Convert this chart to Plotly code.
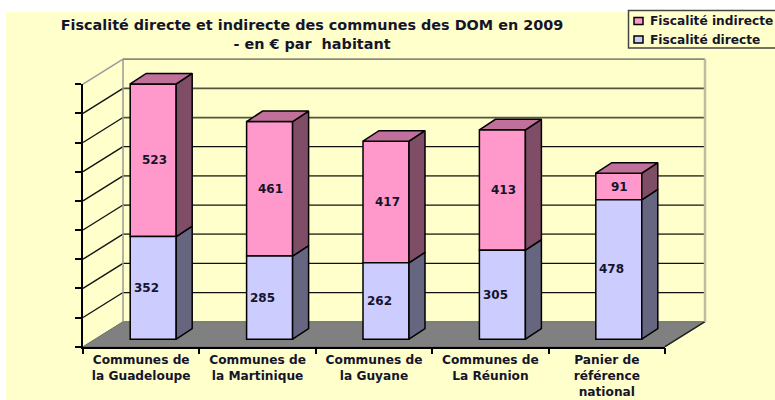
import plotly.graph_objects as go

categories = ["Communes de<br>la Guadeloupe", "Communes de<br>la Martinique", "Communes de<br>la Guyane",
              "Communes de<br>La Réunion", "Panier de<br>référence<br>national"]
directe = [352, 285, 262, 305, 478]
indirecte = [523, 461, 417, 413, 91]
value_ticks = [0, 100, 200, 300, 400, 500, 600, 700, 800, 900]
grid_dark = {100: 1, 200: 1, 300: 0, 400: 1, 500: 0, 600: 1, 700: 0, 800: 0}

W, H = 775, 400
L, R, T, B = 83, 665, 84.2, 346.7
xpx = (R - L) / 5
ypx = (B - T) / 900
WALL_DX, WALL_DY = 40 / xpx, 25 / ypx
BAR_W = 46 / xpx
BAR_DX, BAR_DY = 16 / xpx, 10.5 / ypx
BAR_POS = 0.3
YEL = "#FFFFCC"
FONT = "DejaVu Sans, Liberation Sans, sans-serif"
TXT = "#15152a"
FULL_X = [-L / xpx, (W - L) / xpx]
FULL_Y = [-(H - B) / ypx, B / ypx]

fig = go.Figure()


def line(xs, ys, color, width):
    fig.add_trace(go.Scatter(x=xs, y=ys, mode="lines", line=dict(color=color, width=width), showlegend=False,
                             hoverinfo="skip"))


def poly(xs, ys, fill, lc="black", lw=1.5, axis=("x", "y")):
    fig.add_trace(go.Scatter(x=xs, y=ys, mode="lines", fill="toself", fillcolor=fill,
                             line=dict(color=lc, width=lw), showlegend=False, hoverinfo="skip",
                             xaxis=axis[0], yaxis=axis[1]))


# floor
poly([0, 5, 5 + WALL_DX, WALL_DX, 0], [0, 0, WALL_DY, WALL_DY, 0], "#808080", "#6a6a6a", 1)
line([5, 5 + WALL_DX], [0, WALL_DY], "#222222", 1.5)
# walls
for v in value_ticks[1:-1]:
    c, w = ("#111111", 1.3) if grid_dark[v] else ("#55553f", 1.8)
    line([WALL_DX, 5 + WALL_DX], [v + WALL_DY, v + WALL_DY], c, w)
    line([0, WALL_DX], [v, v + WALL_DY], "#111111", 1.4)
top = value_ticks[-1]
line([WALL_DX, WALL_DX], [WALL_DY, top + WALL_DY], "#999999", 1.5)
line([WALL_DX, 5 + WALL_DX], [top + WALL_DY, top + WALL_DY], "#8a8a7a", 1.8)
line([0, WALL_DX], [top, top + WALL_DY], "#999999", 1.5)
line([5 + WALL_DX, 5 + WALL_DX], [WALL_DY, top + WALL_DY], "#BDBD9E", 2.5)

centers = [i + 0.5 + BAR_POS * WALL_DX for i in range(len(categories))]
base0 = BAR_POS * WALL_DY
ov = ("x2", "y2")
fig.add_trace(go.Bar(x=centers, y=indirecte, base=[base0 + d for d in directe], width=BAR_W, name="Fiscalité indirecte",
                     marker=dict(color="#FF99CC", line=dict(color="black", width=1.5)), xaxis="x2", yaxis="y2",
                     showlegend=False))
fig.add_trace(go.Bar(x=centers, y=directe, base=base0, width=BAR_W, name="Fiscalité directe",
                     marker=dict(color="#CCCCFF", line=dict(color="black", width=1.5)), xaxis="x2", yaxis="y2",
                     showlegend=False))

annotations = []
val_font = dict(family=FONT, size=12, color=TXT, weight="bold")
for c, d, n in zip(centers, directe, indirecte):
    xr = c + BAR_W / 2
    xl = c - BAR_W / 2
    y1 = base0 + d
    y2 = y1 + n
    poly([xr, xr + BAR_DX, xr + BAR_DX, xr, xr], [base0, base0 + BAR_DY, y1 + BAR_DY, y1, base0], "#666680", axis=ov)
    poly([xr, xr + BAR_DX, xr + BAR_DX, xr, xr], [y1, y1 + BAR_DY, y2 + BAR_DY, y2, y1], "#804D66", axis=ov)
    poly([xl, xl + BAR_DX, xr + BAR_DX, xr, xl], [y2, y2 + BAR_DY, y2 + BAR_DY, y2, y2], "#C0709A", axis=ov)
    annotations.append(dict(x=c, y=base0 + d / 2, xref="x2", yref="y2", text=str(d), showarrow=False, xshift=-7,
                            font=val_font))
    annotations.append(dict(x=c, y=y1 + n / 2, xref="x2", yref="y2", text=str(n), showarrow=False, xshift=1,
                            font=val_font))

# front axes live on their own subplot, so that walls and bars may extend past them
fig.add_trace(go.Scatter(x=[0], y=[0], mode="markers", marker=dict(opacity=0), xaxis="x3", yaxis="y3",
                         showlegend=False, hoverinfo="skip"))

# hand-built legend (compact symbol as in the source)
legend_entries = [("Fiscalité indirecte", "#FF99CC", 21), ("Fiscalité directe", "#CCCCFF", 39.5)]
shapes = [
    dict(type="rect", xref="paper", yref="paper", x0=6 / W, x1=1, y0=0, y1=1 - 12 / H, fillcolor=YEL, line_width=0,
         layer="below"),
    dict(type="rect", xref="paper", yref="paper", x0=628.5 / W, x1=1.01, y0=1 - 48 / H, y1=1 - 10.5 / H,
         fillcolor=YEL, line=dict(color="#444444", width=1.5), layer="above"),
]
for label, col, ypos in legend_entries:
    shapes.append(dict(type="rect", xref="paper", yref="paper", x0=634 / W, x1=643 / W, y0=1 - (ypos + 3.5) / H,
                       y1=1 - (ypos - 3.5) / H, fillcolor=col, line=dict(color="black", width=1.5), layer="above"))
    annotations.append(dict(x=647.5 / W, y=1 - ypos / H, xref="paper", yref="paper", xanchor="left", yanchor="middle",
                            text=label, showarrow=False,
                            font=dict(family=FONT, size=12.2, color=TXT, weight="bold")))

hidden_x = dict(range=FULL_X, domain=[0, 1], visible=False)
hidden_y = dict(range=FULL_Y, domain=[0, 1], visible=False)
fig.update_layout(
    width=W, height=H, margin=dict(l=0, r=0, t=0, b=0, autoexpand=False),
    paper_bgcolor="white", plot_bgcolor="rgba(0,0,0,0)", barmode="overlay", showlegend=False,
    title=dict(text="Fiscalité directe et indirecte des communes des DOM en 2009<br>- en € par\u00a0 habitant",
               x=312 / W, xanchor="center", y=1 - 30 / H, yanchor="top", yref="container", pad=dict(t=0),
               font=dict(family=FONT, size=14.4, color=TXT, weight="bold")),
    xaxis=hidden_x, yaxis=hidden_y,
    xaxis2=dict(hidden_x, anchor="y2"), yaxis2=dict(hidden_y, anchor="x2"),
    xaxis3=dict(domain=[L / W, R / W], anchor="y3", range=[0, 5], tickvals=[i + 0.5 for i in range(len(categories))],
                ticktext=categories, ticklen=0, ticklabelstandoff=1, showgrid=False, zeroline=False, showline=True,
                linecolor="black", linewidth=1.5, tickfont=dict(family=FONT, size=12.2, color=TXT, weight="bold"),
                minor=dict(tickvals=list(range(len(categories) + 1)), ticks="outside", ticklen=6, tickcolor="black",
                           tickwidth=1.5, showgrid=False)),
    yaxis3=dict(domain=[1 - B / H, 1 - T / H], anchor="x3", range=[0, 900], tickvals=value_ticks, showticklabels=False,
                ticks="outside", ticklen=6, tickcolor="black", tickwidth=1.5, showgrid=False, zeroline=False,
                showline=True, linecolor="black", linewidth=1.5),
    shapes=shapes, annotations=annotations,
)
fig.write_html("out.html", config=dict(displayModeBar=False),
               post_script="document.body.style.margin='0';document.body.style.overflow='hidden';")
